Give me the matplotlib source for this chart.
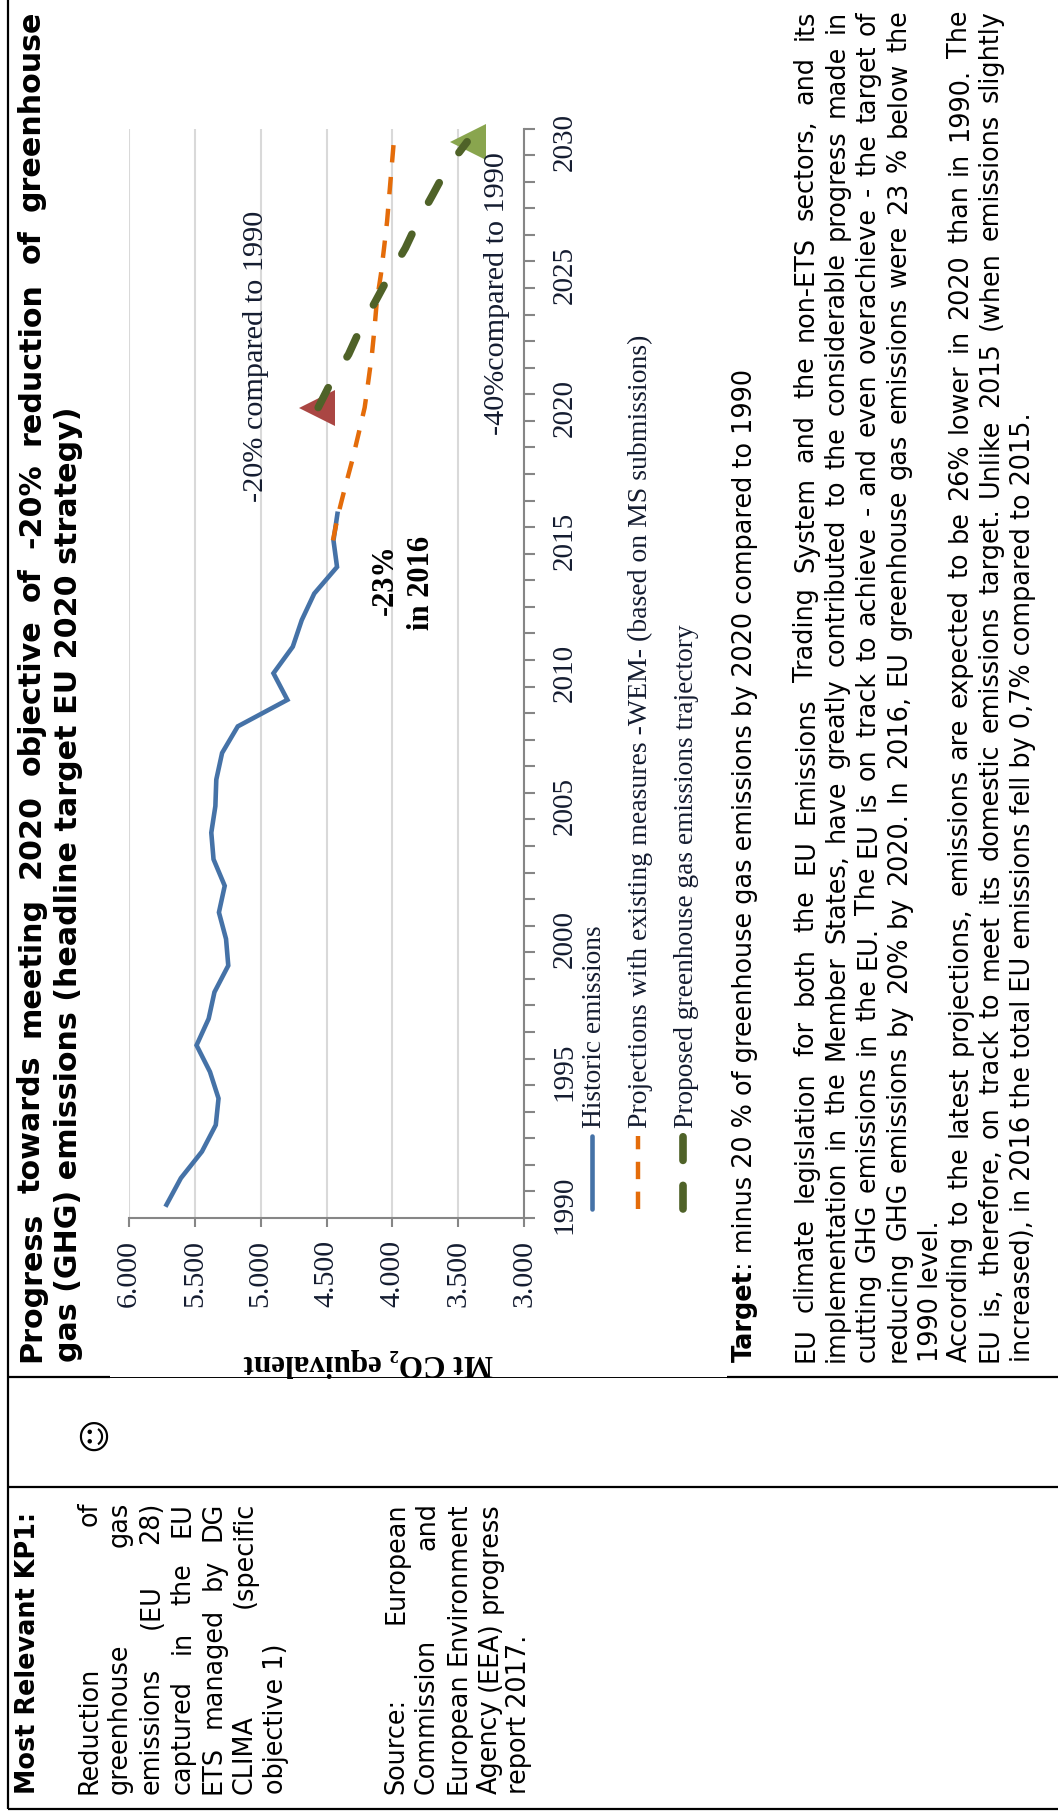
import matplotlib
matplotlib.use('Agg')
import matplotlib.pyplot as plt

# dashes are given in points, not line widths
plt.rcParams['lines.scale_dashes'] = False

SERIF = ['Liberation Serif', 'DejaVu Serif']
SANS = ['DejaVu Sans']

W, H = 1058, 1813
DARK = '#141c30'

## data
hist_years = list(range(1990, 2017))
hist_vals = [5715, 5606, 5446, 5341, 5320, 5385, 5487, 5395, 5351, 5246, 5263, 5317, 5273, 5358,
             5375, 5344, 5337, 5293, 5174, 4797, 4903, 4756, 4688, 4593, 4420, 4447, 4417]

wem_years = list(range(2015, 2031))
wem_vals = [4451, 4410, 4359, 4305, 4257, 4210, 4182, 4155, 4135, 4118, 4087, 4063, 4040, 4023, 4006, 3989]

traj_years = list(range(2020, 2031))
traj_vals = [4563, 4461, 4332, 4240, 4128, 4019, 3901, 3806, 3694, 3585, 3432]

target_years = [2020, 2030]
target_vals = [4570, 3425]

value_ticks = [3000, 3500, 4000, 4500, 5000, 5500, 6000]
value_labels = ['3.000', '3.500', '4.000', '4.500', '5.000', '5.500', '6.000']
year_ticks = [1990, 1995, 2000, 2005, 2010, 2015, 2020, 2025, 2030]

title_lines = ['Progress towards meeting 2020 objective of -20% reduction of greenhouse',
               'gas (GHG) emissions (headline target EU 2020 strategy)']
body_lines = ['EU climate legislation for both the EU Emissions Trading System and the non-ETS sectors, and its',
              'implementation in the Member States, have greatly contributed to the considerable progress made in',
              'cutting GHG emissions in the EU. The EU is on track to achieve - and even overachieve - the target of',
              'reducing GHG emissions by 20% by 2020. In 2016, EU greenhouse gas emissions were 23 % below the',
              '1990 level.',
              'According to the latest projections, emissions are expected to be 26% lower in 2020 than in 1990. The',
              'EU is, therefore, on track to meet its domestic emissions target. Unlike 2015 (when emissions slightly',
              'increased), in 2016 the total EU emissions fell by 0,7% compared to 2015.']
body_x = [813, 844, 875, 906, 938, 967, 998, 1030]
body_just = [True, True, True, True, False, True, True, False]

kp_lines = ['Reduction of', 'greenhouse gas', 'emissions (EU 28)', 'captured in the EU',
            'ETS managed by DG', 'CLIMA (specific', 'objective 1)']
kp_x = [96.5, 127, 158.5, 190, 220.6, 251.7, 283]
src_lines = ['Source: European', 'Commission and', 'European Environment',
             'Agency (EEA) progress', 'report 2017.']
src_x = [403, 434, 465.6, 496.6, 526]

fig = plt.figure(figsize=(W / 100, H / 100), dpi=100, facecolor='white')


def fx(px):
    return px / W


def fy(py):
    return 1 - py / H


## chart, year axis runs upward
left, right, top, bottom = 129, 524, 128.5, 1218
ax = fig.add_axes([fx(left), fy(bottom), fx(right - left), (bottom - top) / H], zorder=1)
ax.set_xlim(6000, 3000)
ax.set_ylim(1989.5, 2030.5)
ax.patch.set_alpha(0)

for s in ['left', 'top']:
    ax.spines[s].set_visible(False)
for s in ['right', 'bottom']:
    ax.spines[s].set_color('#868686')
    ax.spines[s].set_linewidth(1.5)

ax.set_xticks(value_ticks)
ax.set_xticklabels(value_labels, rotation=90, family=SERIF, fontsize=21.5, color=DARK)
ax.tick_params(axis='x', length=6.5, width=1.5, color='#868686', pad=9)
ax.grid(True, axis='x', color='#d9d9d9', lw=1.5)
ax.set_axisbelow(True)

ax.yaxis.tick_right()
ax.set_yticks(year_ticks)
ax.set_yticklabels([str(y) for y in year_ticks], rotation=90, va='center', family=SERIF,
                   fontsize=21, color=DARK)
ax.set_yticks([y + 0.5 for y in range(1989, 2031)], minor=True)
ax.tick_params(axis='y', which='major', length=0, pad=20)
ax.tick_params(axis='y', which='minor', length=8, width=1.5, color='#868686')

ax.plot(hist_vals, hist_years, color='#4572a7', lw=3.3, solid_joinstyle='miter', zorder=3)
ax.plot(wem_vals, wem_years, color='#e46c0a', lw=3.2, dashes=(12.5, 10.5), dash_capstyle='butt', zorder=4)
ax.plot(target_vals[0], target_years[0], marker='<', ms=26, color='#aa4643', mew=0, zorder=5, clip_on=False)
ax.plot(target_vals[1], target_years[1], marker='<', ms=26, color='#89a54e', mew=0, zorder=5, clip_on=False)
ax.plot(traj_vals, traj_years, color='#4f6228', lw=5.5, dashes=(16, 26), dash_capstyle='round', zorder=6)

## everything else sits on a page axes in image pixels
page = fig.add_axes([0, 0, 1, 1], zorder=2)
page.set_xlim(0, W)
page.set_ylim(H, 0)
page.axis('off')
page.patch.set_alpha(0)

renderer = fig.canvas.get_renderer()


def measure(s, size, weight='normal', family=SANS):
    t = page.text(0, 0, s, fontsize=size, fontweight=weight, family=family)
    w = t.get_window_extent(renderer).width
    t.remove()
    return w


def put(x, y, s, size, weight='normal', family=SANS, color='black'):
    page.text(x, y, s, rotation=90, rotation_mode='anchor', ha='left', va='baseline',
              fontsize=size, fontweight=weight, family=family, color=color)


def justified(x, y0, y1, s, size, weight='normal'):
    words = s.split(' ')
    widths = [measure(w, size, weight) for w in words]
    gap = (y0 - y1 - sum(widths)) / (len(words) - 1)
    y = y0
    for w, wd in zip(words, widths):
        put(x, y, w, size, weight)
        y -= wd + gap


# table rules
for xs, ys in [([8, 8], [0, 1809]), ([8, 1058], [1809, 1809]), ([8, 1058], [1487, 1487]),
               ([8, 110], [1377, 1377]), ([727, 1058], [1377, 1377])]:
    page.plot(xs, ys, color='black', lw=1.6, solid_capstyle='butt')
page.plot([110, 727], [1377, 1377], color='black', lw=0.7)

# heading
TITLE_SIZE = 21.7
justified(40, 1362, 10, title_lines[0], TITLE_SIZE, 'bold')
put(77, 1362, title_lines[1], TITLE_SIZE, 'bold')

# target and body
BODY_SIZE = 18.4
put(752, 1362, 'Target', BODY_SIZE, 'bold')
put(752, 1362 - measure('Target', BODY_SIZE, 'bold'), ': minus 20 % of greenhouse gas emissions by 2020 compared to 1990', BODY_SIZE)
for x, s, j in zip(body_x, body_lines, body_just):
    if j:
        justified(x, 1362, 10, s, BODY_SIZE)
    else:
        put(x, 1362, s, BODY_SIZE)

# left column
put(35, 1794, 'Most Relevant KP1:', BODY_SIZE, 'bold')
for x, s in zip(kp_x, kp_lines):
    if s == 'objective 1)':
        put(x, 1794, s, BODY_SIZE)
    else:
        justified(x, 1794, 1502, s, BODY_SIZE)
for x, s in zip(src_x, src_lines):
    if s == 'report 2017.':
        put(x, 1794, s, BODY_SIZE)
    else:
        justified(x, 1794, 1502, s, BODY_SIZE)

page.text(95, 1434, '\u263a', rotation=90, ha='center', va='center', fontsize=24, family=SANS, color='black')

# chart annotations
put(263, 502, '-20% compared to 1990', 21.8, family=SERIF, color=DARK)
put(504.5, 435, '-40%compared to 1990', 21.7, family=SERIF, color=DARK)
put(393, 615, '-23%', 22, 'bold', SERIF, 'black')
put(429, 630, 'in 2016', 22, 'bold', SERIF, 'black')
page.text(493, 1355, 'Mt CO\u2082 equivalent', rotation=180, rotation_mode='anchor', ha='left', va='baseline',
          fontsize=22.4, fontweight='bold', family=SERIF, color='black')

# legend, drawn by hand because its text is turned
page.plot([592, 592], [1209, 1136], color='#4572a7', lw=3.3, solid_capstyle='round')
page.plot([638, 638], [1209, 1136], color='#e46c0a', lw=3.2, dashes=(12.5, 9), dash_capstyle='butt')
page.plot([683, 683], [1209, 1136], color='#4f6228', lw=5.5, dashes=(17, 18), dash_capstyle='round')
put(601, 1128, 'Historic emissions', 19.7, family=SERIF, color=DARK)
put(647, 1128, 'Projections with existing measures -WEM- (based on MS submissions)', 19.95, family=SERIF, color=DARK)
put(693, 1128, 'Proposed greenhouse gas emissions trajectory', 19.7, family=SERIF, color=DARK)

page.set_xlim(0, W)
page.set_ylim(H, 0)

fig.savefig('out.png', dpi=100)
